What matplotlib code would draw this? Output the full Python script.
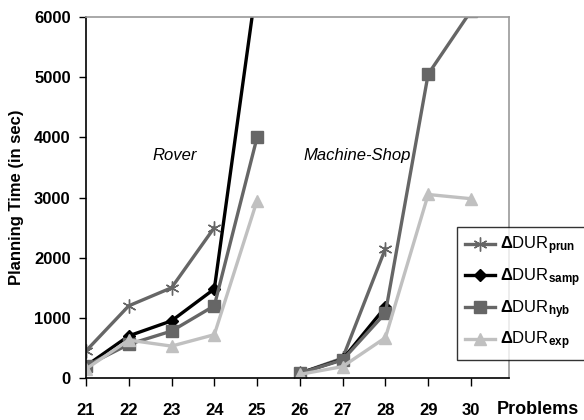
import numpy as np
import matplotlib
matplotlib.use("Agg")
import matplotlib.pyplot as plt

plt.rcParams['font.family'] = ['Liberation Sans', 'DejaVu Sans']
plt.rcParams['mathtext.fontset'] = 'custom'
plt.rcParams['mathtext.rm'] = 'Liberation Sans:bold'
plt.rcParams['mathtext.bf'] = 'Liberation Sans:bold'
plt.rcParams['mathtext.it'] = 'Liberation Sans:bold'

problems = [21, 22, 23, 24, 25, 26, 27, 28, 29, 30]
nan = np.nan
dur_prun = [450, 1200, 1500, 2500, nan, 80, 330, 2150, nan, nan]
dur_samp = [200, 700, 950, 1480, 6600, 80, 310, 1180, nan, nan]
dur_hyb = [200, 560, 780, 1200, 4000, 80, 300, 1080, 5050, 6100]
dur_exp = [150, 630, 530, 720, 2950, 60, 190, 670, 3050, 2980]
labels = [r'$\Delta$DUR$_{\mathrm{prun}}$', r'$\Delta$DUR$_{\mathrm{samp}}$',
          r'$\Delta$DUR$_{\mathrm{hyb}}$', r'$\Delta$DUR$_{\mathrm{exp}}$']

fig = plt.figure(figsize=(5.84, 4.2), dpi=100)
ax = fig.add_axes([86/584, 1-378/420, (509-86)/584, (378-17)/420])

x = np.array(problems, dtype=float)
def split(vals):
    v = np.array(vals, dtype=float)
    return [(x[:5], v[:5]), (x[5:], v[5:])]

styles = [
    dict(color='#666666', marker=(6, 2, 0), ms=10, mew=1.0, lw=2.4),
    dict(color='#000000', marker='D', ms=6, lw=2.4),
    dict(color='#666666', marker='s', ms=8, lw=2.4),
    dict(color='#c0c0c0', marker='^', ms=8, lw=2.4),
]
series = [dur_prun, dur_samp, dur_hyb, dur_exp]
handles = []
for vals, st, lab in zip(series, styles, labels):
    for i, (xx, yy) in enumerate(split(vals)):
        ln, = ax.plot(xx, yy, color=st['color'], marker=st['marker'], ms=st['ms'],
                      mew=st.get('mew', 1), lw=st['lw'], mfc=st['color'], mec=st['color'],
                      label=lab if i == 0 else None, clip_on=True)
        if i == 0:
            handles.append(ln)

ax.set_xlim(21, 30.89)
ax.set_ylim(0, 6000)
ax.set_xticks(problems)
ax.set_xticklabels([str(p) for p in problems], fontsize=12, fontweight='bold')
ax.set_yticks([0, 1000, 2000, 3000, 4000, 5000, 6000])
ax.set_yticklabels(['0', '1000', '2000', '3000', '4000', '5000', '6000'],
                   fontsize=12, fontweight='bold')
ax.tick_params(axis='x', direction='out', length=6, width=1, pad=12, colors='black')
ax.tick_params(axis='y', direction='out', length=5, width=1, pad=6)
for s in ['top', 'right']:
    ax.spines[s].set_color('#9a9a9a')
    ax.spines[s].set_linewidth(1.2)
for s in ['left', 'bottom']:
    ax.spines[s].set_color('black')
    ax.spines[s].set_linewidth(1.2)

ax.set_ylabel('Planning Time (in sec)', fontsize=12, fontweight='bold', labelpad=7)
fig.text(538/584, 1-409/420, 'Problems', fontsize=13, fontweight='bold',
         ha='center', va='center')
ax.text(23.08, 3700, 'Rover', fontsize=12, style='italic', ha='center', va='center')
ax.text(27.33, 3700, 'Machine-Shop', fontsize=12, style='italic', ha='center', va='center')

leg = fig.legend(handles=handles, labels=labels, loc='lower left',
                 bbox_to_anchor=(457/584, 1-360/420, 0.3, (360-223)/420),
                 frameon=True, fancybox=False, fontsize=12,
                 handlelength=1.8, handletextpad=0.3, labelspacing=0.55,
                 borderpad=0.45, borderaxespad=0)
leg.get_frame().set_edgecolor('black')
leg.get_frame().set_linewidth(1.0)

fig.savefig('out.png', dpi=100)
